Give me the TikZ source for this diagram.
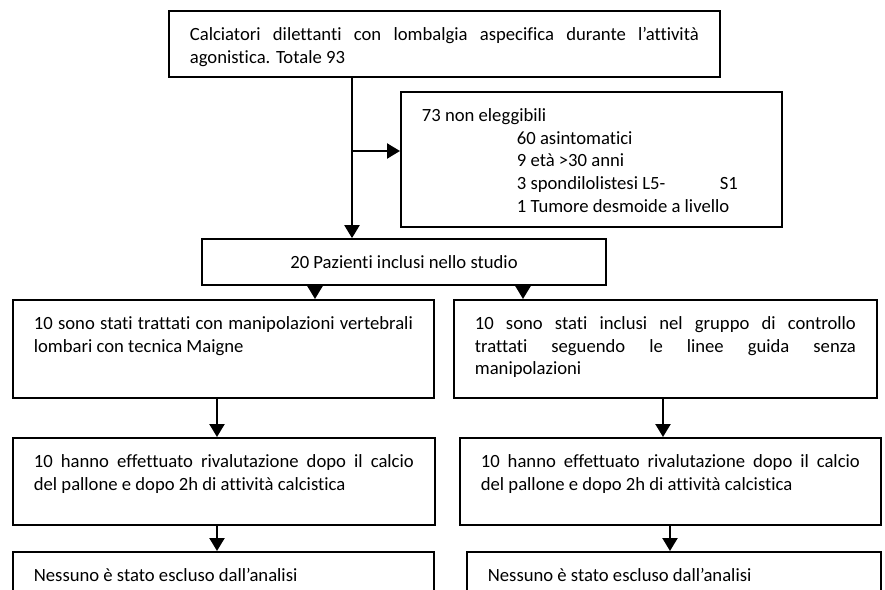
\documentclass[tikz,border=0pt]{standalone}
\usepackage{fontspec}
\setmainfont{Carlito}[Ligatures=NoCommon]
\usepackage{tikz}
\usetikzlibrary{arrows.meta}
\hyphenpenalty=10000

\begin{document}
\begin{tikzpicture}[x=0.75pt, y=-0.75pt,
  every node/.style={font=\fontsize{14}{16.9}\selectfont},
  frame/.style={draw, line width=1.3pt},
  box/.style={frame, anchor=north west, inner xsep=15.75pt, inner ysep=0pt},
  arr/.style={line width=1.7pt, -{Triangle[length=9.75pt, width=11.25pt]}}]
  \fill[white] (0,0) rectangle (885,589);
  \useasboundingbox (0,0) rectangle (885,589);
  \clip (0,0) rectangle (885,589);

  % Screening
  \node[box] (totale) at (168,10) {\parbox[c][49.5pt][t]{381.75pt}{\rule{0pt}{22.5pt}Calciatori dilettanti con lombalgia aspecifica durante l’attività\linebreak agonistica. Totale 93}};
  \node[box] (esclusi) at (400,91) {\parbox[c][101.25pt][t]{254.25pt}{\rule{0pt}{22.5pt}73 non eleggibili\\
    \hspace*{71.25pt}60 asintomatici\\
    \hspace*{71.25pt}9 età >30 anni\\
    \hspace*{71.25pt}3 spondilolistesi L5-\hspace{41pt}S1\\
    \hspace*{71.25pt}1 Tumore desmoide a livello}};
  \coordinate (split) at (352,151);

  % Inclusi
  \node[frame, minimum width=303pt, minimum height=34.5pt, inner sep=0pt] (pazienti) at (404,262) {20 Pazienti inclusi nello studio};

  % Gruppo manipolazioni
  \node[box] (manip) at (12,299) {\parbox[c][73.5pt][t]{284.25pt}{\rule{0pt}{22.5pt}10 sono stati trattati con manipolazioni vertebrali\linebreak lombari con tecnica Maigne}};
  \node[box] (rivalA) at (12,437) {\parbox[c][65.25pt][t]{285pt}{\rule{0pt}{22.5pt}10 hanno effettuato rivalutazione dopo il calcio\linebreak del pallone e dopo 2h di attività calcistica}};
  \node[box] (analisiA) at (12,551) {\parbox[c][66.75pt][t]{284.25pt}{\rule{0pt}{22.5pt}Nessuno è stato escluso dall’analisi}};

  % Gruppo controllo
  \node[box] (controllo) at (453,299) {\parbox[c][73.5pt][t]{285.75pt}{\rule{0pt}{22.5pt}10 sono stati inclusi nel gruppo di controllo\linebreak trattati seguendo le linee guida senza\linebreak manipolazioni}};
  \node[box] (rivalB) at (459,437) {\parbox[c][65.25pt][t]{284.25pt}{\rule{0pt}{22.5pt}10 hanno effettuato rivalutazione dopo il calcio\linebreak del pallone e dopo 2h di attività calcistica}};
  \node[box] (analisiB) at (466,551) {\parbox[c][66.75pt][t]{279pt}{\rule{0pt}{22.5pt}Nessuno è stato escluso dall’analisi}};

  \draw[arr] (split |- totale.south) -- (split |- pazienti.north);
  \draw[arr] (split) -- (split -| esclusi.west);
  \draw[arr] (pazienti.south -| 315,0) -- (manip.north -| 315,0);
  \draw[arr] (pazienti.south -| 523,0) -- (controllo.north -| 523,0);
  \draw[arr] (manip.south -| 217,0) -- (rivalA.north -| 217,0);
  \draw[arr] (rivalA.south -| 217,0) -- (analisiA.north -| 217,0);
  \draw[arr] (controllo.south -| 663,0) -- (rivalB.north -| 663,0);
  \draw[arr] (rivalB.south -| 670,0) -- (analisiB.north -| 670,0);
\end{tikzpicture}
\end{document}
